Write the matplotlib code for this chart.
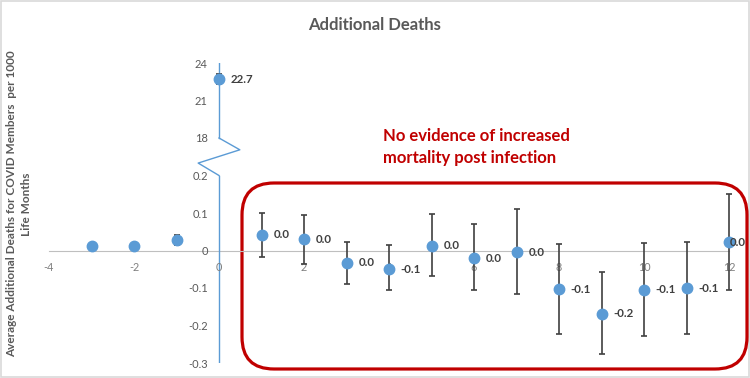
import numpy as np
import matplotlib
matplotlib.use("Agg")
from matplotlib import pyplot as plt
from matplotlib.patches import FancyBboxPatch, Rectangle

plt.rcParams['font.family'] = ['Lato', 'DejaVu Sans']

# months relative to infection
months = [-3, -2, -1, 0, 1, 2, 3, 4, 5, 6, 7, 8, 9, 10, 11, 12]
deaths = [0.012, 0.012, 0.028, 22.7, 0.042, 0.030, -0.033, -0.050, 0.013, -0.020,
          -0.004, -0.103, -0.169, -0.105, -0.100, 0.022]
err_low = [0.0, 0.0, 0.013, 0.4, 0.058, 0.065, 0.056, 0.055, 0.080, 0.085,
           0.112, 0.119, 0.107, 0.122, 0.122, 0.126]
err_high = [0.0, 0.0, 0.013, 0.4, 0.058, 0.064, 0.057, 0.066, 0.085, 0.091,
            0.114, 0.120, 0.111, 0.126, 0.123, 0.129]
labels = ['', '', '', '22.7', '0.0', '0.0', '0.0', '-0.1', '0.0', '0.0',
          '0.0', '-0.1', '-0.2', '-0.1', '-0.1', '0.0']

x_ticks = [-4, -2, 0, 2, 4, 6, 8, 10, 12]
y_ticks = [-0.3, -0.2, -0.1, 0, 0.1, 0.2, 18, 21, 24]
y_tick_labels = ['-0.3', '-0.2', '-0.1', '0', '0.1', '0.2', '18', '21', '24']

BLUE = '#5B9BD5'
RED = '#C00000'
GREY = '#595959'


# broken y axis: 0.2..18 squeezed into one tick step, 18..24 at 3 per step
def fwd(v):
    v = np.asarray(v, dtype=float)
    return np.where(v <= 0.2, v,
                    np.where(v < 18, 0.2 + (v - 0.2) / 178.0, 0.3 + (v - 18) / 30.0))


def inv(t):
    t = np.asarray(t, dtype=float)
    return np.where(t <= 0.2, t,
                    np.where(t < 0.3, 0.2 + (t - 0.2) * 178.0, 18 + (t - 0.3) * 30.0))


fig = plt.figure(figsize=(7.5, 3.78), dpi=100)

# pixel overlay for frame, callout box, and free text
ov = fig.add_axes([0, 0, 1, 1])
ov.set_xlim(0, 750)
ov.set_ylim(378, 0)
ov.axis('off')
ov.add_patch(Rectangle((1, 1), 748, 376, fill=False, edgecolor='#D9D9D9', lw=1.2))
ov.add_patch(FancyBboxPatch((242, 183), 505, 186,
                            boxstyle='round,pad=0,rounding_size=32',
                            fill=False, edgecolor=RED, lw=2.3))
ov.text(383, 141, 'No evidence of increased', color=RED, fontsize=12,
        fontweight='bold', va='baseline', ha='left')
ov.text(383, 163, 'mortality post infection', color=RED, fontsize=12,
        fontweight='bold', va='baseline', ha='left')

ax = fig.add_axes([27.75 / 750, 15 / 378, 722.5 / 750, 300 / 378])
ax.set_yscale('function', functions=(fwd, inv))
ax.set_xlim(-4.5, 12.5)
ax.set_ylim(-0.3, 24)
ax.patch.set_alpha(0)

# y axis line with break mark
ax.plot([0, 0], [-0.3, 0.2], color=BLUE, lw=1, zorder=1)
ax.plot([0, 0.49, -0.49, 0], [18, 12.4, 6.1, 0.2], color=BLUE, lw=1, zorder=1)
ax.plot([0, 0], [18, 24], color=BLUE, lw=1, zorder=1)

ax.errorbar(months, deaths, yerr=[err_low, err_high], fmt='o', color=BLUE,
            markersize=7.5, ecolor='#404040', elinewidth=1.2, capsize=2.5,
            capthick=1.2, zorder=3)

for i, (m, d, lab) in enumerate(zip(months, deaths, labels)):
    if lab:
        # last label is pulled in so it stays inside the chart
        dx = 0.5 if i == len(months) - 1 else 8.5
        ax.annotate(lab, (m, d), xytext=(dx, 0), textcoords='offset points',
                    ha='left', va='center', fontsize=8.3, fontweight='bold',
                    color='#404040', zorder=4)

for side in ['top', 'right']:
    ax.spines[side].set_visible(False)
ax.spines['bottom'].set_position(('data', 0))
ax.spines['bottom'].set_bounds(-4, 12)
ax.spines['bottom'].set_color('#BFBFBF')
ax.spines['bottom'].set_linewidth(0.8)
ax.spines['bottom'].set_zorder(0.5)
ax.spines['left'].set_position(('data', 0))
ax.spines['left'].set_color('none')

ax.set_xticks(x_ticks)
ax.set_xticklabels([str(t) for t in x_ticks])
ax.set_yticks(y_ticks)
ax.set_yticklabels(y_tick_labels)
ax.yaxis.set_minor_locator(matplotlib.ticker.NullLocator())
ax.tick_params(axis='x', length=0, pad=8, labelsize=7.8, labelcolor='#7F7F7F')
ax.tick_params(axis='y', length=0, pad=8, labelsize=8, labelcolor=GREY)

fig.text(375 / 750, 1 - 30 / 378, 'Additional Deaths', ha='center', va='baseline',
         fontsize=12, fontweight='bold', color=GREY)
fig.text(19 / 750, 1 - 204 / 378,
         'Average Additional Deaths for COVID Members  per 1000\nLife Months',
         rotation=90, ha='center', va='center', multialignment='center',
         fontsize=8.5, color=GREY, fontweight='bold', linespacing=1.5)

fig.savefig('out.png', dpi=100)
